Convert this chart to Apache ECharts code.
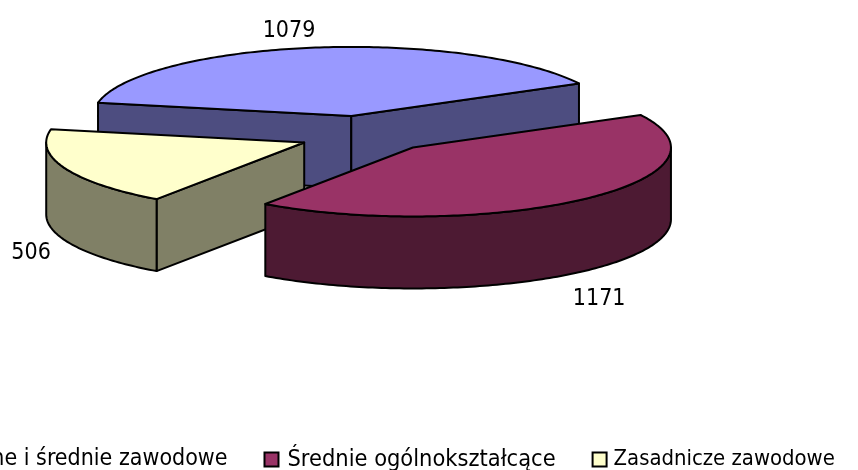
<!DOCTYPE html>
<html>
<head>
<meta charset="utf-8">
<style>
  html, body { margin: 0; padding: 0; background: #fff; }
  #chart { width: 858px; height: 470px; }
</style>
<script src="https://cdn.jsdelivr.net/npm/echarts@6/dist/echarts.min.js"></script>
</head>
<body>
<div id="chart"></div>
<script>
const categories = ['Policealne i średnie zawodowe', 'Średnie ogólnokształcące', 'Zasadnicze zawodowe']
const values = [1079, 1171, 506]
const topColors = ['#9999FF', '#993366', '#FFFFCC']
const wallColors = ['#4D4D80', '#4D1A33', '#808066']

// rzut koła: środek, promienie elipsy, grubość, obrót
const cx = 363
const cy = 135
const rx = 258
const ry = 69
const depth = 72
const startAngle = 169 // stopnie, od osi x w lewo, wycinki idą zgodnie z ruchem wskazówek
const explode = [0.28, 0.28, 0.25]
const nudge = [[-1, 0], [2, -2], [1, 1]]
const labelOffset = [[-24, -17], [15, 100], [-34, 85]]
const drawOrder = [0, 2, 1]
const fontName = '"DejaVu Sans Condensed", "DejaVu Sans"'

// legenda: osobne rozmiary, bo szerokości tekstu różnią się od oryginału
const legendFontSize = [23, 23.4, 21.9]
const legendPadding = [[0, 0, 0, 13], [0, 0, 0, 4], [0, 0, 0, 2]]

const total = values.reduce((a, b) => a + b, 0)

function sliceAngles(index) {
  let a = startAngle
  for (let i = 0; i < index; i++) a -= values[i] / total * 360
  return [a, a - values[index] / total * 360]
}

function rim(apex, deg, dy) {
  const r = deg * Math.PI / 180
  return [apex[0] + rx * Math.cos(r), apex[1] - ry * Math.sin(r) + (dy || 0)]
}

function isFront(deg) {
  return Math.sin(deg * Math.PI / 180) < 0
}

function renderSlice(index) {
  const [a0, a1] = sliceAngles(index)
  const mid = (a0 + a1) / 2 * Math.PI / 180
  const apex = [
    cx + explode[index] * rx * Math.cos(mid) + nudge[index][0],
    cy - explode[index] * ry * Math.sin(mid) + nudge[index][1]
  ]
  const lineStyle = { stroke: '#000', lineWidth: 2, lineJoin: 'round' }
  const children = []
  const wall = points => children.push({
    type: 'polygon',
    shape: { points },
    style: Object.assign({ fill: wallColors[index] }, lineStyle)
  })

  // tylne ściany przekroju są zasłonięte, rysujemy tylko przednie
  ;[[a0, a0 + 90], [a1, a1 - 90]].forEach(([edge, normal]) => {
    if (isFront(normal)) {
      const e = rim(apex, edge)
      wall([apex, e, [e[0], e[1] + depth], [apex[0], apex[1] + depth]])
    }
  })

  // zewnętrzna ściana łuku, widoczna tylko od 0 do -180 stopni
  const from = Math.min(a0, 0)
  const to = Math.max(a1, -180)
  if (from > to) {
    const front = []
    const back = []
    for (let d = from; d > to; d -= 1) {
      front.push(rim(apex, d))
      back.unshift(rim(apex, d, depth))
    }
    front.push(rim(apex, to))
    back.unshift(rim(apex, to, depth))
    wall(front.concat(back))
  }

  // wierzch wycinka
  const top = [apex]
  for (let d = a0; d > a1; d -= 1) top.push(rim(apex, d))
  top.push(rim(apex, a1))
  children.push({
    type: 'polygon',
    shape: { points: top },
    style: Object.assign({ fill: topColors[index] }, lineStyle)
  })

  const p = rim(apex, (a0 + a1) / 2)
  children.push({
    type: 'text',
    style: {
      x: p[0] + labelOffset[index][0],
      y: p[1] + labelOffset[index][1],
      text: String(values[index]),
      fill: '#000',
      font: '23px ' + fontName,
      align: 'center',
      verticalAlign: 'middle'
    }
  })
  return { type: 'group', children }
}

const series = drawOrder.map(index => ({
  type: 'custom',
  name: categories[index],
  coordinateSystem: 'none',
  silent: true,
  animation: false,
  itemStyle: { color: topColors[index] },
  data: [[values[index]]],
  renderItem: () => renderSlice(index)
}))

const chart = echarts.init(document.getElementById('chart'), null, { renderer: 'canvas' })
chart.setOption({
  animation: false,
  legend: {
    data: categories.map((name, i) => ({
      name,
      icon: 'rect',
      itemStyle: { color: topColors[i], borderColor: '#000', borderWidth: 2 },
      textStyle: { fontSize: legendFontSize[i], padding: legendPadding[i] }
    })),
    left: -120,
    top: 448,
    width: 1200,
    itemWidth: 14,
    itemHeight: 14,
    itemGap: 36,
    padding: 0,
    selectedMode: false,
    textStyle: { color: '#000', fontFamily: fontName, fontSize: 23 }
  },
  series
})
</script>
</body>
</html>
